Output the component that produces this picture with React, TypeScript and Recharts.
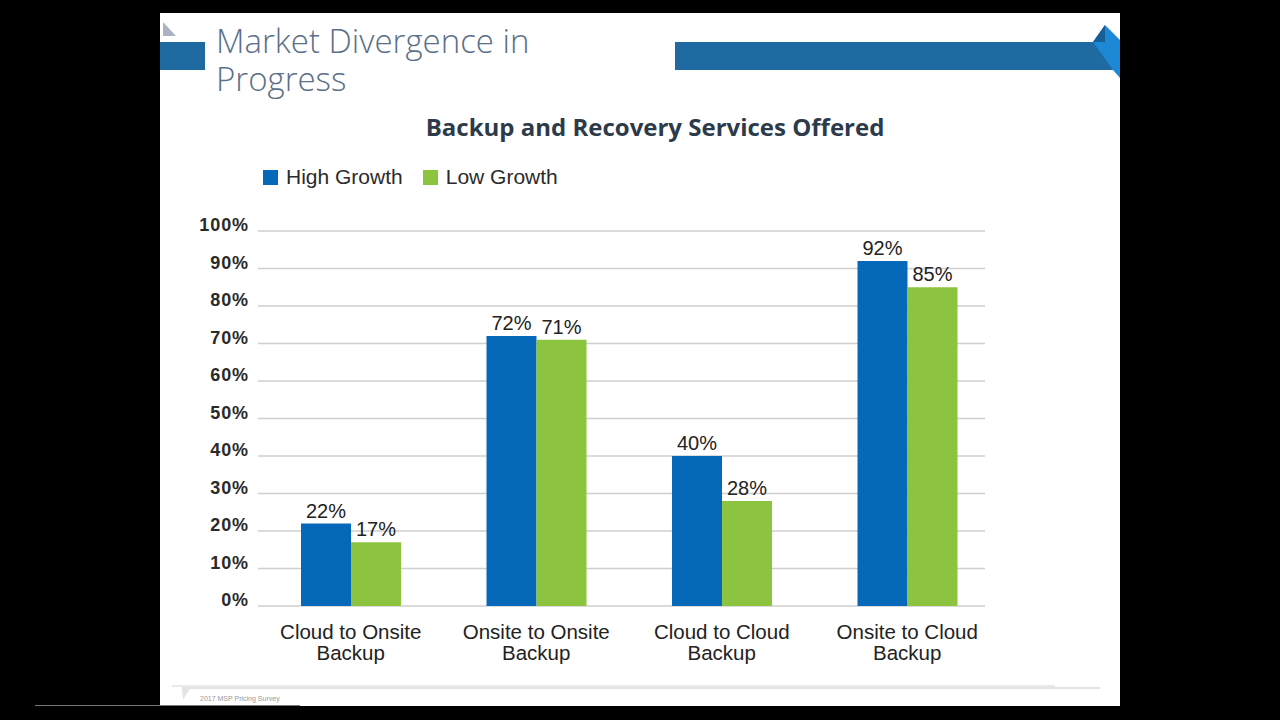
import React from 'react';
import { BarChart, Bar, XAxis, YAxis, CartesianGrid, LabelList } from 'recharts';

// Backup and recovery services, % of MSPs offering each
const categories = [
  'Cloud to Onsite Backup',
  'Onsite to Onsite Backup',
  'Cloud to Cloud Backup',
  'Onsite to Cloud Backup',
];
const highGrowth = [22, 72, 40, 92];
const lowGrowth = [17, 71, 28, 85];
const yTicks = [0, 10, 20, 30, 40, 50, 60, 70, 80, 90, 100];

const BLUE = '#0668b8';
const GREEN = '#8cc43f';

const data = categories.map((name, i) => ({
  name,
  high: highGrowth[i],
  low: lowGrowth[i],
}));

const YTick = ({ x, y, payload }: any) => (
  <text
    x={x}
    y={y}
    dy={0}
    textAnchor="end"
    fill="#2a2a2a"
    fontFamily="Liberation Sans, Arial, sans-serif"
    fontWeight="bold"
    fontSize={18}
    letterSpacing={0.9}
  >
    {payload.value}%
  </text>
);

// Two-line category label: "X to Y" over "Backup"
const XTick = ({ x, y, payload }: any) => {
  const words = String(payload.value).split(' ');
  const first = words.slice(0, -1).join(' ');
  const last = words[words.length - 1];
  return (
    <text
      x={x}
      y={y}
      textAnchor="middle"
      fill="#222"
      fontFamily="Liberation Sans, Arial, sans-serif"
      fontSize={20.5}
    >
      <tspan x={x} dy={25}>{first}</tspan>
      <tspan x={x} dy={21}>{last}</tspan>
    </text>
  );
};

// gridlines stop a little short of the plot's right edge
const GridLine = (props: any) => (
  <line
    x1={props.x1}
    y1={props.y1}
    x2={props.x2 - 15}
    y2={props.y2}
    stroke="#cfcfcf"
    strokeWidth={1.5}
  />
);

const labelProps = {
  position: 'top' as const,
  offset: 6,
  formatter: (v: any) => `${v}%`,
  fill: '#222',
  fontSize: 20,
  fontFamily: 'Liberation Sans, Arial, sans-serif',
};

const headingStyle: React.CSSProperties = {
  position: 'absolute',
  left: 216,
  fontFamily: 'Open Sans, sans-serif',
  fontWeight: 300,
  fontSize: 33,
  lineHeight: '38px',
  height: 38,
  color: '#5b6f88',
  whiteSpace: 'nowrap',
};

const LegendItem = ({ color, text }: { color: string; text: string }) => (
  <div style={{ display: 'flex', alignItems: 'center', marginRight: 20 }}>
    <div style={{ width: 15, height: 15, background: color, marginRight: 8 }} />
    <span style={{ fontSize: 21, color: '#2b2b2b' }}>{text}</span>
  </div>
);

export default function App() {
  return (
    <div
      style={{
        position: 'absolute',
        left: 0,
        top: 0,
        width: 1280,
        height: 720,
        background: '#000',
        overflow: 'hidden',
        fontFamily: 'Liberation Sans, Arial, sans-serif',
      }}
    >
      {/* slide */}
      <div style={{ position: 'absolute', left: 160, top: 13, width: 960, height: 693, background: '#fff' }} />

      {/* header and footer decorations */}
      <svg style={{ position: 'absolute', left: 0, top: 0 }} width={1280} height={720}>
        <polygon points="163,22 176,36 163,36" fill="#a9b3c4" />
        <rect x={160} y={42} width={45} height={28} fill="#1f6aa0" />
        <rect x={675} y={42} width={445} height={28} fill="#1f6aa0" />
        <polygon points="1093,42 1105,25 1120,40 1120,78 1113,70" fill="#1d88d6" />
        <polygon points="1093,42 1105,25 1105,42" fill="#1a5e96" />
        <line x1={172} y1={686} x2={1055} y2={686} stroke="#d4d4d4" strokeWidth={1} />
        <line x1={182} y1={688} x2={1100} y2={688} stroke="#e2e2e2" strokeWidth={2} />
        <polygon points="182,689 190,689 183,700" fill="#e4e4e4" />
        <text x={200} y={701} fontSize={7} fill="#999">2017 MSP Pricing Survey</text>
        <line x1={35} y1={705.5} x2={300} y2={705.5} stroke="#777" strokeWidth={1} />
      </svg>

      <div style={{ ...headingStyle, top: 22 }}>Market Divergence in</div>
      <div style={{ ...headingStyle, top: 60 }}>Progress</div>

      <div
        style={{
          position: 'absolute',
          left: 160,
          width: 990,
          top: 110,
          textAlign: 'center',
          fontFamily: 'Open Sans, sans-serif',
          fontWeight: 700,
          fontSize: 24,
          color: '#2d3a4a',
        }}
      >
        Backup and Recovery Services Offered
      </div>

      <div style={{ position: 'absolute', left: 263, top: 165, display: 'flex' }}>
        <LegendItem color={BLUE} text="High Growth" />
        <LegendItem color={GREEN} text="Low Growth" />
      </div>

      <div style={{ position: 'absolute', left: 180, top: 200 }}>
        <BarChart
          width={830}
          height={480}
          data={data}
          margin={{ top: 31, right: 10, bottom: 0, left: 0 }}
          barGap={0}
        >
          <CartesianGrid vertical={false} horizontal={GridLine} />
          <XAxis
            dataKey="name"
            height={74}
            axisLine={false}
            tickLine={false}
            interval={0}
            tick={<XTick />}
          />
          <YAxis
            width={78}
            domain={[0, 100]}
            ticks={yTicks}
            interval={0}
            axisLine={false}
            tickLine={false}
            tickMargin={3}
            tick={<YTick />}
          />
          <Bar dataKey="high" fill={BLUE} barSize={50} isAnimationActive={false}>
            <LabelList dataKey="high" {...labelProps} />
          </Bar>
          <Bar dataKey="low" fill={GREEN} barSize={50} isAnimationActive={false}>
            <LabelList dataKey="low" {...labelProps} />
          </Bar>
        </BarChart>
      </div>
    </div>
  );
}
